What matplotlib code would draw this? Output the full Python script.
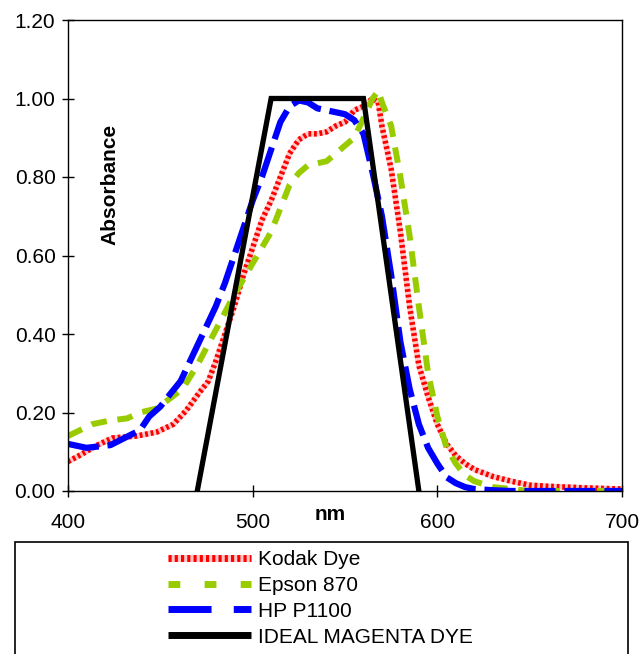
import matplotlib
matplotlib.use("Agg")
import matplotlib.pyplot as plt
from matplotlib.patches import Rectangle
from matplotlib.lines import Line2D

plt.rcParams['font.family'] = ['Liberation Sans', 'DejaVu Sans']

# ---- data ----
ideal_nm = [470, 510, 560, 590]
ideal_abs = [0.0, 1.0, 1.0, 0.0]

kodak_nm = [400, 406, 416, 424, 437, 448, 457, 464, 471, 476, 480, 485, 490, 495, 500, 505, 510, 515,
            520, 525, 530, 535, 540, 545, 550, 555, 560, 565, 568, 570, 575, 580, 585, 590, 595,
            600, 605, 610, 615, 620, 630, 640, 650, 660, 680, 700]
kodak_abs = [0.075, 0.09, 0.117, 0.135, 0.14, 0.15, 0.17, 0.205, 0.25, 0.28, 0.33, 0.40, 0.47, 0.55,
             0.62, 0.69, 0.74, 0.80, 0.86, 0.895, 0.91, 0.91, 0.915, 0.93, 0.94, 0.97, 0.98, 1.0,
             0.99, 0.93, 0.82, 0.66, 0.47, 0.32, 0.24, 0.17, 0.12, 0.09, 0.07, 0.055, 0.037,
             0.025, 0.015, 0.012, 0.008, 0.005]

epson_nm = [400, 413, 423, 432, 439, 448, 462, 470, 480, 490, 500, 505, 510, 515, 520, 525, 530,
            540, 545, 550, 555, 560, 565, 568, 570, 575, 580, 585, 590, 595, 600, 605, 610, 615,
            620, 630, 640, 650, 700]
epson_abs = [0.14, 0.17, 0.18, 0.185, 0.20, 0.21, 0.26, 0.32, 0.41, 0.50, 0.58, 0.62, 0.66, 0.72,
             0.78, 0.81, 0.83, 0.84, 0.86, 0.88, 0.90, 0.95, 1.0, 1.02, 0.99, 0.93, 0.80, 0.65,
             0.47, 0.30, 0.19, 0.11, 0.07, 0.04, 0.025, 0.01, 0.005, 0.0, 0.0]

hp_nm = [400, 410, 423, 439, 444, 450, 455, 461, 470, 475, 480, 485, 490, 495, 500, 505, 510, 515,
         520, 525, 530, 535, 540, 545, 550, 555, 560, 565, 570, 575, 580, 585, 590, 595, 600,
         605, 610, 615, 620, 630, 640, 700]
hp_abs = [0.12, 0.11, 0.117, 0.155, 0.19, 0.215, 0.245, 0.28, 0.37, 0.42, 0.47, 0.53, 0.60, 0.67,
          0.74, 0.80, 0.87, 0.94, 0.98, 0.995, 0.99, 0.975, 0.97, 0.965, 0.96, 0.945, 0.91, 0.81,
          0.70, 0.55, 0.38, 0.26, 0.17, 0.11, 0.07, 0.035, 0.02, 0.01, 0.005, 0.002, 0.0, 0.0]

x_ticks = [400, 500, 600, 700]
y_ticks = [0.0, 0.2, 0.4, 0.6, 0.8, 1.0, 1.2]
labels = ['Kodak Dye', 'Epson 870', 'HP P1100', 'IDEAL MAGENTA DYE']

# ---- figure ----
fig = plt.figure(figsize=(6.41, 6.54), dpi=100)
ax = fig.add_axes([68/641, 1-491/654, (622-68)/641, (491-20)/654])

ax.plot(kodak_nm, kodak_abs, color='#ffc8c8', lw=4.0, solid_capstyle='butt')
ax.plot(kodak_nm, kodak_abs, color='#ff0000', lw=4.0, linestyle=(0, (0.5, 0.5)))
ax.plot(epson_nm, epson_abs, color='#99cc00', lw=4.3, linestyle=(0, (2.6, 1.8)),
        dash_capstyle='butt')
ax.plot(hp_nm, hp_abs, color='#0000ff', lw=4.5, linestyle=(0, (5, 1.4)), dash_capstyle='butt')
ax.plot(ideal_nm, ideal_abs, color='#000000', lw=3.8, solid_joinstyle='miter')

ax.set_xlim(400, 700)
ax.set_ylim(0, 1.2)
ax.set_xticks(x_ticks)
ax.set_xticklabels([str(v) for v in x_ticks])
ax.set_yticks(y_ticks)
ax.set_yticklabels([f"{v:.2f}" for v in y_ticks])
ax.tick_params(axis='both', direction='inout', length=8, width=1, labelsize=15, colors='black')
ax.tick_params(axis='x', pad=12)
ax.tick_params(axis='y', pad=5)
for s in ax.spines.values():
    s.set_linewidth(1.0)

fig.text(110/641, 1-184/654, 'Absorbance', rotation=90,
         ha='center', va='center', fontsize=15, fontweight='bold')
fig.text(330/641, 1-515/654, 'nm', ha='center', va='center', fontsize=15, fontweight='bold')

# legend box
fig.patches.append(Rectangle((15/641, -0.05), (628-15)/641, (1-542/654)+0.05,
                             transform=fig.transFigure, fill=False, edgecolor='black', lw=1.2))

# legend proxies
lk1 = Line2D([], [], color='#ffc8c8', lw=5, solid_capstyle='butt')
lk2 = Line2D([], [], color='#ff0000', lw=5, linestyle=(0, (0.45, 0.45)))
le = Line2D([], [], color='#99cc00', lw=5, linestyle=(0, (1.7, 3.5)), dash_capstyle='butt')
lh = Line2D([], [], color='#0000ff', lw=5, linestyle=(0, (6.2, 3.2)), dash_capstyle='butt')
li = Line2D([], [], color='#000000', lw=5, solid_capstyle='butt')
fig.legend([(lk1, lk2), le, lh, li], labels,
           loc='upper left', bbox_to_anchor=(168/641, 1-550/654), frameon=False,
           borderpad=0, borderaxespad=0, handlelength=4.0, handletextpad=0.3,
           labelspacing=0.33, fontsize=15)

fig.savefig('out.png', dpi=100)
